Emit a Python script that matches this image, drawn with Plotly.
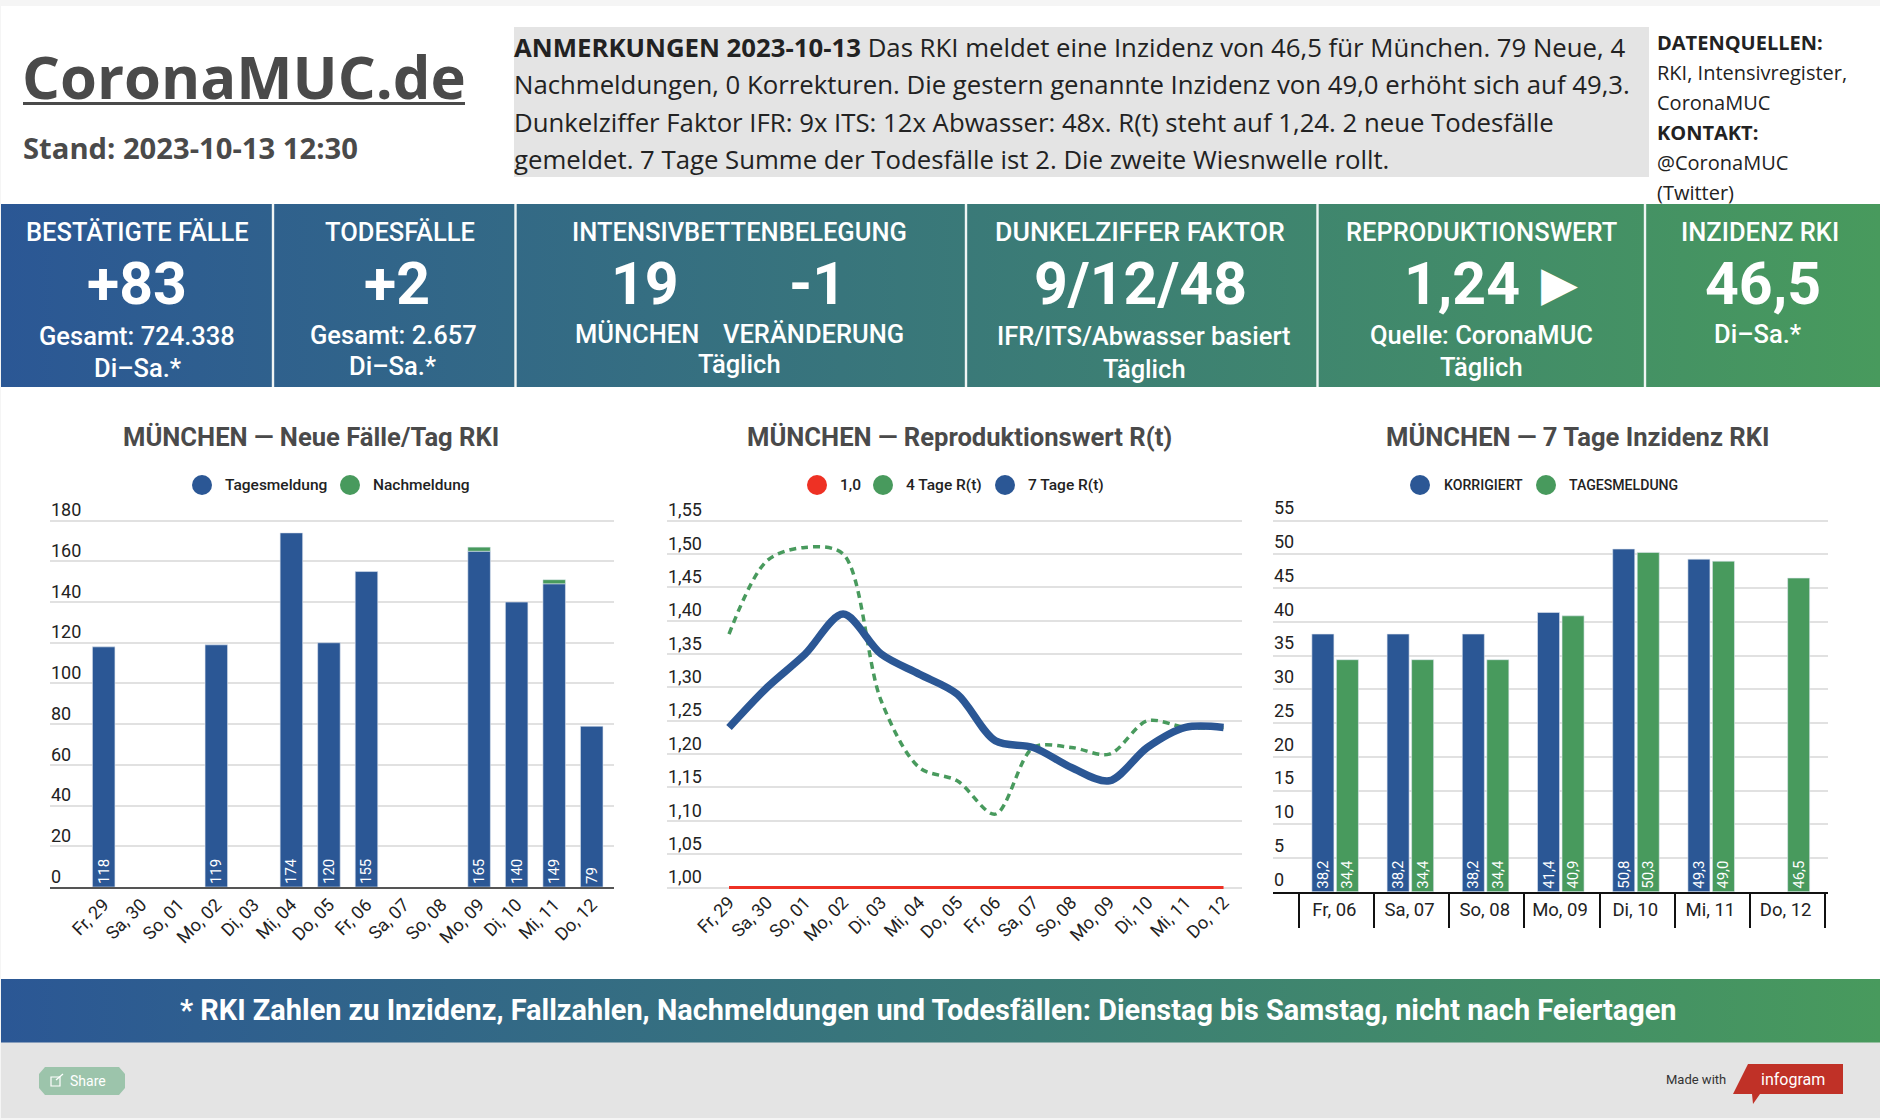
import plotly.graph_objects as go

W, H = 1880, 1120
BLUE = "#2b5795"
GREEN = "#489a5d"
RED = "#ee3124"
GRID = "#e1e1e1"
INK = "#222222"
HEAD = "#4a4a4a"

# ---------- data ----------
days_a = ["Fr, 29", "Sa, 30", "So, 01", "Mo, 02", "Di, 03", "Mi, 04", "Do, 05",
          "Fr, 06", "Sa, 07", "So, 08", "Mo, 09", "Di, 10", "Mi, 11", "Do, 12"]
tagesmeldung = [118, None, None, 119, None, 174, 120, 155, None, None, 165, 140, 149, 79]
nachmeldung = [None, None, None, None, None, None, None, None, None, None, 2, None, 2, None]

r_one = [1.0] * 14
r_four = [1.38, 1.49, 1.51, 1.50, 1.28, 1.18, 1.16, 1.11, 1.21, 1.21, 1.20, 1.25, 1.24, 1.24]
r_seven = [1.24, 1.30, 1.35, 1.41, 1.35, 1.32, 1.29, 1.22, 1.21, 1.18, 1.16, 1.21, 1.24, 1.24]

days_c = ["Fr, 06", "Sa, 07", "So, 08", "Mo, 09", "Di, 10", "Mi, 11", "Do, 12"]
korrigiert = [38.2, 38.2, 38.2, 41.4, 50.8, 49.3, None]
inzidenz_tag = [34.4, 34.4, 34.4, 40.9, 50.3, 49.0, 46.5]

notes = [
    "<b>ANMERKUNGEN 2023-10-13</b> Das RKI meldet eine Inzidenz von 46,5 für München. 79 Neue, 4",
    "Nachmeldungen, 0 Korrekturen. Die gestern genannte Inzidenz von 49,0 erhöht sich auf 49,3.",
    "Dunkelziffer Faktor IFR: 9x ITS: 12x Abwasser: 48x. R(t) steht auf 1,24. 2 neue Todesfälle",
    "gemeldet. 7 Tage Summe der Todesfälle ist 2. Die zweite Wiesnwelle rollt.",
]
sources = ["<b>DATENQUELLEN:</b>", "RKI, Intensivregister,", "CoronaMUC", "<b>KONTAKT:</b>",
           "@CoronaMUC", "(Twitter)"]
footer_text = "* RKI Zahlen zu Inzidenz, Fallzahlen, Nachmeldungen und Todesfällen: Dienstag bis Samstag, nicht nach Feiertagen"

# ---------- pixel helpers ----------
def px(x):
    return x / W

def py(y):
    return 1 - y / H

shapes, annotations = [], []

def rect(x0, y0, x1, y1, color):
    shapes.append(dict(type="rect", xref="paper", yref="paper", x0=px(x0), x1=px(x1),
                       y0=py(y0), y1=py(y1), fillcolor=color, line_width=0, layer="below"))

def dot(cx, cy, color, r=10):
    shapes.append(dict(type="circle", xref="paper", yref="paper", x0=px(cx - r), x1=px(cx + r),
                       y0=py(cy - r), y1=py(cy + r), fillcolor=color, line_width=0, layer="above"))

def path(points, color):
    d = "M " + " L ".join(f"{px(a)} {py(b)}" for a, b in points) + " Z"
    shapes.append(dict(type="path", xref="paper", yref="paper", path=d, fillcolor=color,
                       line_width=0, layer="above"))

def text(x, y, s, size, color=INK, family="Roboto", anchor="center", weight=400):
    annotations.append(dict(xref="paper", yref="paper", x=px(x), y=py(y), text=s, showarrow=False,
                            xanchor=anchor, yanchor="middle", align=anchor, borderpad=0,
                            font=dict(family=family, size=size, color=color, weight=weight)))

# ---------- page surfaces ----------
rect(1, 6, W, 1042, "#ffffff")
rect(1, 1042, W, 1118, "#e4e4e4")
rect(514, 27, 1649, 177, "#e4e4e4")

# ---------- header ----------
text(21, 76, "CoronaMUC.de", 59.7, HEAD, "Open Sans", "left", 700)
rect(23, 102, 465, 105, HEAD)
text(22, 148, "Stand: 2023-10-13 12:30", 29.2, HEAD, "Open Sans", "left", 700)
for y, s in zip([46.5, 84, 121.5, 159], notes):
    text(513, y, s, 25.75, INK, "Open Sans", "left")
for y, s in zip([43, 72.5, 102.5, 132.5, 162.5, 193], sources):
    text(1656, y, s, 20, INK, "Open Sans", "left")

# ---------- band texts ----------
W_ = "#ffffff"
for x, y, s, size, wt in [
    (137, 232, "BESTÄTIGTE FÄLLE", 25.5, 500), (137, 283, "+83", 59, 700),
    (137, 336, "Gesamt: 724.338", 25.5, 500), (138, 368, "Di–Sa.*", 25.5, 500),
    (400, 232, "TODESFÄLLE", 25.5, 500), (397, 283, "+2", 59, 700),
    (393, 335, "Gesamt: 2.657", 25.5, 500), (393, 366, "Di–Sa.*", 25.5, 500),
    (739, 232, "INTENSIVBETTENBELEGUNG", 25.5, 500), (645, 283, "19", 59, 700),
    (817, 283, "-1", 59, 700), (637, 333.5, "MÜNCHEN", 25.5, 500),
    (813, 333.5, "VERÄNDERUNG", 25.5, 500), (739, 363.5, "Täglich", 25.5, 500),
    (1140, 232, "DUNKELZIFFER FAKTOR", 26.7, 500), (1140, 283, "9/12/48", 59, 700),
    (1144, 336, "IFR/ITS/Abwasser basiert", 25.5, 500), (1144, 368.5, "Täglich", 25.5, 500),
    (1481, 232, "REPRODUKTIONSWERT", 25.5, 500), (1462, 283, "1,24", 59, 700),
    (1481, 334.5, "Quelle: CoronaMUC", 25.5, 500), (1481, 366.5, "Täglich", 25.5, 500),
    (1760, 232, "INZIDENZ RKI", 25.5, 500), (1763, 283, "46,5", 59, 700),
    (1758, 334, "Di–Sa.*", 25.5, 500),
]:
    text(x, y, s, size, W_, "Roboto", "center", wt)
text(1559, 283, "▶", 48, W_, "DejaVu Sans")

text(928, 1010, footer_text, 28.9, W_, "Roboto", "center", 700)

# ---------- chart titles and legends ----------
for x, s in [(311, "MÜNCHEN — Neue Fälle/Tag RKI"), (960, "MÜNCHEN — Reproduktionswert R(t)"),
             (1577, "MÜNCHEN — 7 Tage Inzidenz RKI")]:
    text(x, 437, s, 25.6, HEAD, "Roboto", "center", 700)

for cx, col, tx, s, size in [
    (202, BLUE, 224, "Tagesmeldung", 15.5), (350, GREEN, 372, "Nachmeldung", 15.5),
    (817, RED, 839, "1,0", 15.5), (883, GREEN, 905, "4 Tage R(t)", 15.5),
    (1005, BLUE, 1026.5, "7 Tage R(t)", 15.5),
    (1420, BLUE, 1443, "KORRIGIERT", 14.1), (1546, GREEN, 1568, "TAGESMELDUNG", 14.1),
]:
    dot(cx, 485, col)
    text(tx, 485, s, size, INK, "Roboto", "left", 500)

# ---------- share and logo ----------
path([(45, 1067), (119, 1067), (125, 1074), (125, 1088), (119, 1095), (45, 1095), (39, 1088), (39, 1074)], "#9cc4ab")
text(88, 1081, "Share", 14, W_, "Roboto")
shapes.append(dict(type="rect", xref="paper", yref="paper", x0=px(51), x1=px(60), y0=py(1086), y1=py(1077),
                   line=dict(color="#ffffff", width=1.2), fillcolor="rgba(0,0,0,0)", layer="above"))
shapes.append(dict(type="line", xref="paper", yref="paper", x0=px(56), x1=px(63), y0=py(1080), y1=py(1074),
                   line=dict(color="#ffffff", width=1.2), layer="above"))
text(1727, 1079, "Made with", 13, "#333333", "Roboto", "right")
path([(1748, 1064), (1843, 1064), (1843, 1094), (1760, 1094), (1753, 1104), (1752, 1094), (1733, 1094)], "#c03127")
text(1793, 1079, "infogram", 16, W_, "Roboto", "center", 400)

# ---------- figure ----------
fig = go.Figure()

# gradient bands live on a full-page axis pair
stops = [[0, BLUE], [1, GREEN]]
for y0, y1 in [(204, 387), (979, 1042.5)]:
    fig.add_trace(go.Scatter(
        x=[1, W, W, 1, 1], y=[y0, y0, y1, y1, y0], xaxis="x4", yaxis="y4", mode="lines",
        line=dict(width=0), fill="toself", hoverinfo="skip", showlegend=False,
        fillgradient=dict(type="horizontal", colorscale=stops, start=0, stop=W)))
for x in [273, 515.5, 966, 1317.5, 1645]:
    fig.add_trace(go.Scatter(x=[x, x], y=[204, 387], xaxis="x4", yaxis="y4", mode="lines",
                             line=dict(color="#f0f5f4", width=2.4), hoverinfo="skip", showlegend=False))

# chart 1: Nachmeldung sits on top of Tagesmeldung
fig.add_trace(go.Bar(
    x=days_a, y=tagesmeldung, name="Tagesmeldung", width=0.6,
    marker=dict(color=BLUE, line=dict(color="#dfe6f0", width=0.6)),
    xaxis="x", yaxis="y", texttemplate="%{y}", textposition="inside", insidetextanchor="start",
    textangle=-90, insidetextfont=dict(family="Roboto", size=15, color="#ffffff"), constraintext="none",
    showlegend=False))
fig.add_trace(go.Bar(
    x=days_a, y=nachmeldung, base=[t if n else None for t, n in zip(tagesmeldung, nachmeldung)],
    name="Nachmeldung", width=0.6, marker=dict(color=GREEN), xaxis="x", yaxis="y",
    textposition="none", showlegend=False))

# chart 2
fig.add_trace(go.Scatter(x=days_a, y=r_one, name="1,0", xaxis="x2", yaxis="y2", mode="lines",
                         line=dict(color=RED, width=3), showlegend=False))
fig.add_trace(go.Scatter(x=days_a, y=r_four, name="4 Tage R(t)", xaxis="x2", yaxis="y2", mode="lines",
                         line=dict(color=GREEN, width=3.5, dash="7px,5px", shape="spline", smoothing=0.9),
                         showlegend=False))
fig.add_trace(go.Scatter(x=days_a, y=r_seven, name="7 Tage R(t)", xaxis="x2", yaxis="y2", mode="lines",
                         line=dict(color=BLUE, width=7.5, shape="spline", smoothing=0.9), showlegend=False))

# chart 3
for vals, col, name, off in [(korrigiert, BLUE, "KORRIGIERT", -0.326), (inzidenz_tag, GREEN, "TAGESMELDUNG", 0.0)]:
    fig.add_trace(go.Bar(
        x=days_c, y=vals, name=name, width=0.293, offset=off,
        marker=dict(color=col, line=dict(color="#dfe6f0", width=0.6)),
        xaxis="x3", yaxis="y3", texttemplate="%{y:.1f}", textposition="inside", insidetextanchor="start",
        textangle=-90, insidetextfont=dict(family="Roboto", size=15, color="#ffffff"), constraintext="none",
        showlegend=False))

tick = dict(family="Roboto", size=18, color=INK)
ygrid = dict(showgrid=True, gridcolor=GRID, gridwidth=1.5, zeroline=False, ticks="", showline=False,
             ticklabelposition="inside top", ticklabelstandoff=-2, tickfont=tick, fixedrange=True)
xbase = dict(type="category", showgrid=False, zeroline=False, tickfont=tick, fixedrange=True)

# the y domains reach 30 px above the top gridline so the top tick label keeps its room
layout = dict(
    width=W, height=H, margin=dict(l=0, r=0, t=0, b=0, pad=0), autosize=False,
    paper_bgcolor="#f5f5f5", plot_bgcolor="rgba(0,0,0,0)", separators=",.",
    barmode="overlay", showlegend=False, shapes=shapes, annotations=annotations,
    font=dict(family="Roboto"),
    xaxis=dict(xbase, domain=[px(50), px(613.5)], range=[-1.43, 13.58], categoryorder="array", categoryarray=days_a,
               tickangle=-45, tickmode="array", tickvals=days_a, ticktext=days_a,
               showline=True, linecolor="#555555", linewidth=2.4, ticklabelstandoff=-2, anchor="y"),
    yaxis=dict(ygrid, domain=[py(887), py(490.7)], range=[0, 194.73], dtick=20, ticklabelshift=2, anchor="x"),
    xaxis2=dict(xbase, domain=[px(667), px(1241.8)], range=[-1.63, 13.48], categoryorder="array", categoryarray=days_a,
                tickangle=-45, tickmode="array", tickvals=days_a, ticktext=days_a, showline=False,
                ticklabelstandoff=-6, anchor="y2"),
    yaxis2=dict(ygrid, domain=[py(893.5), py(490.7)], range=[0.991, 1.595], tick0=1.0, dtick=0.05, tickformat=".2f",
                ticklabelshift=2, anchor="x2"),
    xaxis3=dict(xbase, domain=[px(1273), px(1827.5)], range=[-0.843, 6.53], categoryorder="array", categoryarray=days_c,
                tickangle=0, tickson="boundaries", ticks="outside", ticklen=34, tickwidth=1.5, tickcolor="#111111",
                tickfont=dict(tick, size=18.5), ticklabelshift=-2,
                showline=True, linecolor="#111111", linewidth=2.4, anchor="y3"),
    yaxis3=dict(ygrid, domain=[py(891.8), py(490.7)], range=[0, 59.446], dtick=5, anchor="x3"),
    xaxis4=dict(domain=[0, 1], range=[0, W], visible=False, fixedrange=True, anchor="y4"),
    yaxis4=dict(domain=[0, 1], range=[H, 0], visible=False, fixedrange=True, anchor="x4"),
)
fig.update_layout(**layout)

fig.write_html("out.html", config=dict(displayModeBar=False, responsive=False),
               post_script="document.body.style.margin='0';document.body.style.overflow='hidden';")
